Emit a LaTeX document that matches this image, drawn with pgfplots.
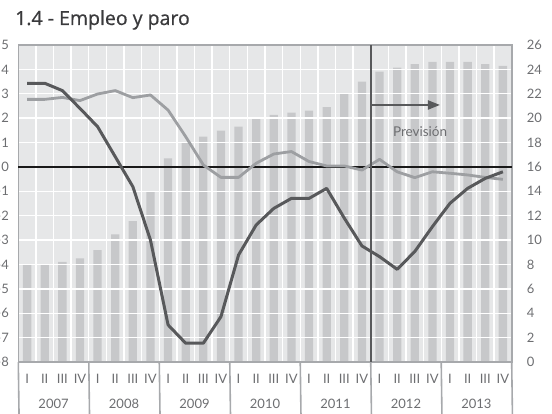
\documentclass[border=0pt]{standalone}
\usepackage{fontspec}
\setmainfont{Lato}
\newfontfamily\titlefont[FakeBold=0.6]{Open Sans}
\usepackage{pgfplots}
\usepackage{pgfplotstable}
\pgfplotsset{compat=1.18}
\usetikzlibrary{arrows.meta}
\definecolor{bg}{HTML}{E6E7E8}
\definecolor{barc}{HTML}{C7C8CA}
\definecolor{darkl}{HTML}{58595B}
\definecolor{lightl}{HTML}{9D9FA2}
\definecolor{framec}{HTML}{A7A9AC}
\definecolor{txt}{HTML}{6D6E71}
\definecolor{ttl}{HTML}{3A3A3C}

\pgfplotstableread{
x r
0 8.03
1 8.03
2 8.22
3 8.5
4 9.18
5 10.47
6 11.56
7 14.02
8 16.7
9 17.99
10 18.48
11 18.97
12 19.3
13 20.07
14 20.26
15 20.45
16 20.61
17 20.91
18 22.04
19 22.99
20 23.81
21 24.14
22 24.44
23 24.61
24 24.61
25 24.61
26 24.44
27 24.28
}\paro

\pgfplotstableread{
x emp act
0 3.43 2.77
1 3.43 2.77
2 3.13 2.85
3 2.40 2.72
4 1.65 2.99
5 0.42 3.13
6 -0.81 2.84
7 -3.00 2.95
8 -6.48 2.33
9 -7.23 1.24
10 -7.23 0.08
11 -6.14 -0.43
12 -3.61 -0.43
13 -2.38 0.15
14 -1.70 0.53
15 -1.29 0.63
16 -1.29 0.22
17 -0.88 0.04
18 -2.10 0.04
19 -3.24 -0.13
20 -3.68 0.31
21 -4.20 -0.20
22 -3.47 -0.44
23 -2.45 -0.20
24 -1.49 -0.26
25 -0.88 -0.33
26 -0.47 -0.43
27 -0.20 -0.51
}\lines

\begin{document}
\begin{tikzpicture}[x=1pt,y=1pt]
\node[anchor=base west, font=\titlefont\fontsize{19.5}{22}\selectfont, text=ttl, inner sep=0pt] at (15,389) {1.4 - Empleo y paro};

\begin{axis}[
  at={(18.3pt,52pt)}, anchor=south west,
  scale only axis, width=493.4pt, height=317pt,
  xmin=-0.5, xmax=27.5, ymin=0, ymax=26,
  axis background/.style={fill=bg},
  axis line style={draw=framec, line width=1.6pt},
  axis on top,
  clip=false,
  xtick={0,...,27},
  xticklabels={I,II,III,IV,I,II,III,IV,I,II,III,IV,I,II,III,IV,I,II,III,IV,I,II,III,IV,I,II,III,IV},
  minor xtick={0.5,1.5,...,26.5},
  xminorgrids=true, xmajorgrids=false,
  ytick={0,2,...,26},
  ymajorgrids=true,
  grid style={white, line width=1.4pt},
  minor grid style={white, line width=1.4pt},
  major tick length=0pt, minor tick length=0pt,
  tick style={draw=none},
  yticklabel pos=right,
  yticklabel style={anchor=west, inner sep=0pt, xshift=15pt, font=\fontsize{13}{15}\selectfont, text=txt},
  xticklabel style={anchor=base, inner sep=0pt, yshift=-21pt, font=\fontsize{13}{15}\selectfont, text=txt},
  /pgf/number format/assume math mode=true,
]
\addplot[ybar, bar width=8.3pt, bar shift=0pt, fill=barc, draw=none] table[x=x,y=r] {\paro};
\foreach \s in {-0.5,3.5,7.5,11.5,15.5,19.5,23.5,27.5}{
  \edef\tmp{\noexpand\draw[framec, line width=1.6pt] (axis cs:\s,0) -- ++(0,-52);}
  \tmp
}
\node[anchor=base, inner sep=0pt, font=\fontsize{13}{15}\selectfont, text=txt] at ([yshift=-46pt]axis cs:1.5,0) {2007};
\node[anchor=base, inner sep=0pt, font=\fontsize{13}{15}\selectfont, text=txt] at ([yshift=-46pt]axis cs:5.5,0) {2008};
\node[anchor=base, inner sep=0pt, font=\fontsize{13}{15}\selectfont, text=txt] at ([yshift=-46pt]axis cs:9.5,0) {2009};
\node[anchor=base, inner sep=0pt, font=\fontsize{13}{15}\selectfont, text=txt] at ([yshift=-46pt]axis cs:13.5,0) {2010};
\node[anchor=base, inner sep=0pt, font=\fontsize{13}{15}\selectfont, text=txt] at ([yshift=-46pt]axis cs:17.5,0) {2011};
\node[anchor=base, inner sep=0pt, font=\fontsize{13}{15}\selectfont, text=txt] at ([yshift=-46pt]axis cs:21.5,0) {2012};
\node[anchor=base, inner sep=0pt, font=\fontsize{13}{15}\selectfont, text=txt] at ([yshift=-46pt]axis cs:25.5,0) {2013};
\end{axis}

\begin{axis}[
  at={(18.3pt,52pt)}, anchor=south west,
  scale only axis, width=493.4pt, height=317pt,
  xmin=-0.5, xmax=27.5, ymin=-8, ymax=5,
  axis line style={draw=none},
  xtick=\empty,
  ytick={-8,...,5},
  tick style={draw=none}, major tick length=0pt,
  yticklabel pos=left,
  yticklabel style={anchor=east, inner sep=0pt, xshift=-9.3pt, font=\fontsize{13}{15}\selectfont, text=txt},
  /pgf/number format/assume math mode=true,
  clip=false,
]
\draw[black!90, line width=1.6pt] (axis cs:-0.5,0) -- (axis cs:27.5,0);
\addplot[lightl, line width=2.8pt, line join=round, no markers] table[x=x,y=act] {\lines};
\addplot[darkl, line width=3pt, line join=round, no markers] table[x=x,y=emp] {\lines};
\draw[darkl, line width=2pt] (axis cs:19.5,-8) -- (axis cs:19.5,5);
\draw[darkl, line width=2pt, -{Triangle[length=12pt,width=9pt]}] (axis cs:19.5,2.54) -- (axis cs:23.43,2.54);
\node[font=\fontsize{13.5}{15}\selectfont, text=txt] at (axis cs:22.3,1.45) {Previsión};
\end{axis}

\pgfresetboundingbox
\path[use as bounding box] (0,0) rectangle (552,414);
\end{tikzpicture}
\end{document}
